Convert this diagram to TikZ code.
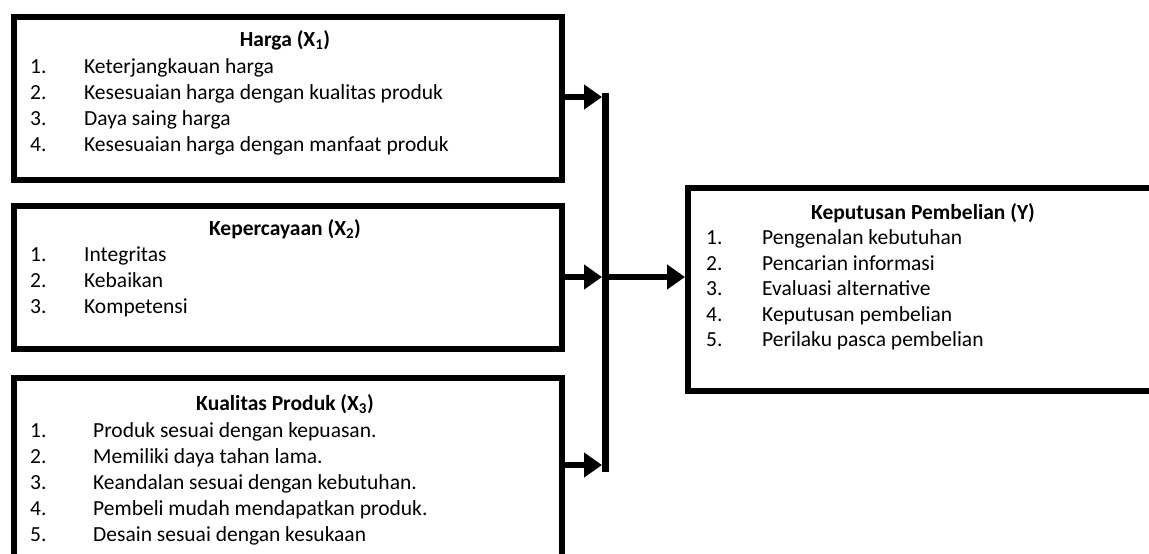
\documentclass[tikz,border=0pt]{standalone}
\usepackage{fontspec}
\setmainfont{Carlito}
\usetikzlibrary{arrows.meta}

\tikzset{
	varbox/.style={draw, line width=6pt, inner sep=0pt, anchor=north west},
	title/.style={font=\fontsize{21.5}{26}\selectfont\bfseries, inner sep=0pt, anchor=base},
	num/.style={inner sep=0pt, anchor=base west},
	item/.style={inner sep=0pt, anchor=base west},
	link/.style={line width=6pt, -{Triangle[length=18pt,width=24pt]}}
}

\begin{document}
\begin{tikzpicture}[x=1pt,y=-1pt,font=\fontsize{21.5}{26}\selectfont]

	\useasboundingbox (0,0) rectangle (1149,554);
	\clip (0,0) rectangle (1149,554);

	% boxes
	\node[varbox, minimum width=548pt, minimum height=163pt] (harga) at (11,14) {};
	\node[varbox, minimum width=548pt, minimum height=143pt] (percaya) at (11,203) {};
	\node[varbox, minimum width=548pt, minimum height=200pt] (kualitas) at (11,375) {};
	\node[varbox, minimum width=480pt, minimum height=203pt] (keputusan) at (685,185) {};

	% titles
	\node[title] (tharga) at (285,46) {Harga (X\textsubscript{1})};
	\node[title] (tpercaya) at (285,235) {Kepercayaan (X\textsubscript{2})};
	\node[title] (tkualitas) at (285,410) {Kualitas Produk (X\textsubscript{3})};
	\node[title] (tkeputusan) at (923,219) {Keputusan Pembelian (Y)};

	% items
	\foreach \t [count=\i] in {Keterjangkauan harga, Kesesuaian harga dengan kualitas produk, Daya saing harga, Kesesuaian harga dengan manfaat produk}{
		\node[num] (nh\i) at (30,{47+26*\i}) {\i.};
		\node[item] (ih\i) at (84,{47+26*\i}) {\t};
	}
	\foreach \t [count=\i] in {Integritas, Kebaikan, Kompetensi}{
		\node[num] (np\i) at (30,{235+26*\i}) {\i.};
		\node[item] (ip\i) at (84,{235+26*\i}) {\t};
	}
	\foreach \t [count=\i] in {Produk sesuai dengan kepuasan., Memiliki daya tahan lama., Keandalan sesuai dengan kebutuhan., Pembeli mudah mendapatkan produk., Desain sesuai dengan kesukaan}{
		\node[num] (nk\i) at (30,{411+26*\i}) {\i.};
		\node[item] (ik\i) at (93,{411+26*\i}) {\t};
	}
	\foreach \t [count=\i] in {Pengenalan kebutuhan, Pencarian informasi, Evaluasi alternative, Keputusan pembelian, Perilaku pasca pembelian}{
		\node[num] (ny\i) at (706,{219+25.5*\i}) {\i.};
		\node[item] (iy\i) at (762,{219+25.5*\i}) {\t};
	}

	% connectors
	\coordinate (bartop) at (605.5,93);
	\coordinate (barbot) at (605.5,472);
	\coordinate (in1) at (602,97);
	\coordinate (in2) at (602,277);
	\coordinate (in3) at (602,465);
	\coordinate (out) at (605.5,277);

	\draw[line width=7pt] (bartop) -- (barbot);
	\draw[link] (in1 -| harga.east) -- (in1);
	\draw[link] (in2 -| percaya.east) -- (in2);
	\draw[link] (in3 -| kualitas.east) -- (in3);
	\draw[link] (out) -- (out -| keputusan.west);

\end{tikzpicture}
\end{document}
